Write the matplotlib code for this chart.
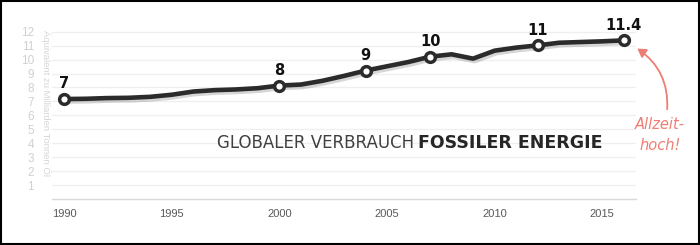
import matplotlib
matplotlib.use("Agg")
import matplotlib.pyplot as plt
import matplotlib.patheffects as pe
from matplotlib.patches import FancyArrowPatch, Rectangle

years = list(range(1990, 2017))
values = [7.17, 7.19, 7.24, 7.26, 7.33, 7.48, 7.71, 7.81, 7.86, 7.95,
          8.14, 8.21, 8.48, 8.83, 9.21, 9.52, 9.83, 10.21, 10.38, 10.07,
          10.64, 10.86, 11.02, 11.21, 11.26, 11.31, 11.38]
label_years = [1990, 2000, 2004, 2007, 2012, 2016]
label_texts = ["7", "8", "9", "10", "11", "11.4"]
yticks = list(range(1, 13))
xticks = [1990, 1995, 2000, 2005, 2010, 2015]

fig = plt.figure(figsize=(7, 2.45), dpi=100)
ax = fig.add_axes([52/700, 1-199/245, (636-52)/700, 12.6*13.94/245])
ax.set_xlim(1989.43, 2016.57)
ax.set_ylim(0, 12.6)

ax.set_yticks(yticks)
ax.set_xticks(xticks)
ax.grid(axis="y", color="#efefef", linewidth=0.9)
ax.set_axisbelow(True)
for s in ["top", "right", "left"]:
    ax.spines[s].set_visible(False)
ax.spines["bottom"].set_color("#d9d9d9")
ax.spines["bottom"].set_linewidth(1.0)
ax.tick_params(axis="both", length=0)
ax.tick_params(axis="y", pad=13, labelsize=8.5, labelcolor="#d0d0d0")
ax.tick_params(axis="x", pad=7, labelsize=8, labelcolor="#595959")
for t in ax.get_xticklabels() + ax.get_yticklabels():
    t.set_fontfamily("Liberation Sans")

line, = ax.plot(years, values, color="#2b2b2b", linewidth=3.3, solid_capstyle="round",
                solid_joinstyle="round", zorder=3)
line.set_path_effects([pe.SimpleLineShadow(offset=(1.2, -1.8), alpha=0.16, shadow_color="#000000"),
                       pe.Normal()])

mx = [y for y in label_years]
my = [values[years.index(y)] for y in label_years]
ax.plot(mx, my, linestyle="none", marker="o", markersize=7, markerfacecolor="white",
        markeredgecolor="#2b2b2b", markeredgewidth=2.5, zorder=4)
for x, y, t in zip(mx, my, label_texts):
    ax.annotate(t, (x, y), xytext=(0, 5.5), textcoords="offset points", ha="center",
                va="bottom", fontsize=10.5, fontweight="bold", color="#111111",
                family="DejaVu Sans")

fig.text(46/700, 1-30/245, "Äquivalent zu Milliarden Tonnen Öl", rotation=270,
         ha="center", va="top", fontsize=6.8, color="#d6d6d6", family="Liberation Sans")

fig.text(217/700, 1-143/245, "GLOBALER VERBRAUCH", fontsize=12.0,
         color="#404040", ha="left", va="center", family="DejaVu Sans")
fig.text(603/700, 1-143/245, "FOSSILER ENERGIE", fontsize=12.5,
         color="#262626", ha="right", va="center", fontweight="bold", family="DejaVu Sans")

fig.text(660/700, 1-135/245, "Allzeit-\nhoch!", ha="center", va="center", fontsize=10.5,
         color="#ee7d73", style="italic", linespacing=1.45, family="DejaVu Sans")
arr = FancyArrowPatch(posA=(667/700, 1-112/245), posB=(635/700, 1-47/245),
                      transform=fig.transFigure, connectionstyle="arc3,rad=0.3",
                      arrowstyle="-|>,head_length=5,head_width=3", color="#ee7d73",
                      linewidth=1.3)
fig.add_artist(arr)

fig.add_artist(Rectangle((0.002, 0.003), 0.996, 0.994, transform=fig.transFigure,
                         fill=False, edgecolor="black", linewidth=1.5))

fig.savefig("out.png", dpi=100)
